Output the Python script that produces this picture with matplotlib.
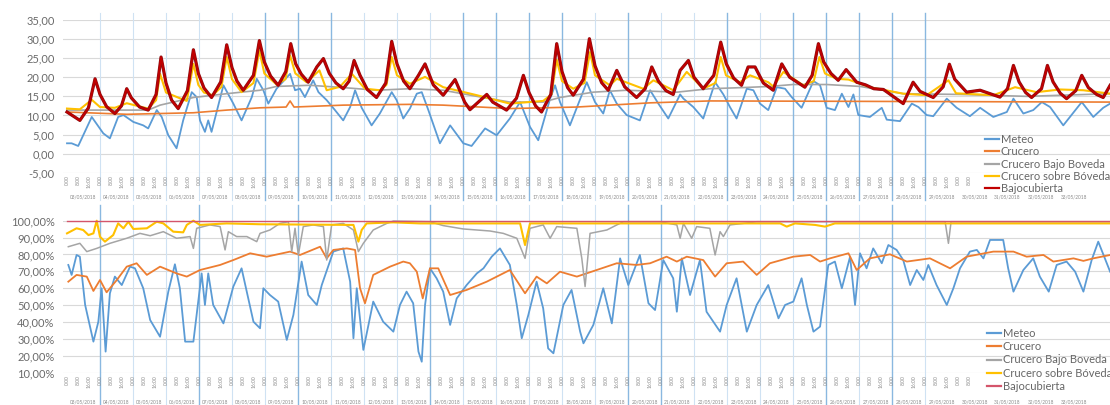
import matplotlib
matplotlib.use("Agg")
import matplotlib.pyplot as plt
import matplotlib.patheffects as pe
from matplotlib.transforms import blended_transform_factory

plt.rcParams['font.family'] = ['Lato', 'DejaVu Sans']

# ---------------- data (x in days from start of record) ----------------
series_names = ["Meteo", "Crucero", "Crucero Bajo Boveda", "Crucero sobre Bóveda", "Bajocubierta"]

# Temperature (°C) panel
temp_meteo_t = [0.00, 0.14, 0.34, 0.75, 1.10, 1.30, 1.55, 1.71, 2.01, 2.31, 2.46, 2.72, 2.87, 3.07, 3.32, 3.52, 3.78, 3.93,
                4.03, 4.18, 4.28, 4.38, 4.74, 5.04, 5.29, 5.60, 5.75, 5.95, 6.10, 6.35, 6.76, 6.91, 7.06, 7.21, 7.46, 7.62,
                7.87, 8.12, 8.37, 8.58, 8.73, 8.93, 9.23, 9.48, 9.84, 9.99, 10.19, 10.39, 10.60, 10.75, 10.95, 11.30, 11.61,
                12.01, 12.26, 12.67, 13.02, 13.42, 13.73, 14.03, 14.28, 14.64, 14.79, 14.94, 15.24, 15.75, 16.00, 16.25,
                16.45, 16.66, 16.96, 17.36, 17.67, 17.92, 18.22, 18.58, 18.68, 18.98, 19.28, 19.64, 19.89, 20.09, 20.29,
                20.60, 20.80, 21.00, 21.25, 21.51, 21.76, 21.96, 22.26, 22.62, 22.82, 23.02, 23.27, 23.48, 23.68, 23.83,
                23.98, 24.33, 24.69, 24.84, 25.24, 25.60, 25.80, 26.05, 26.25, 26.66, 26.96, 27.36, 27.67, 28.07, 28.48,
                28.68, 28.98, 29.28, 29.54, 29.79, 30.19, 30.75, 31.10, 31.40, 31.61]
temp_meteo_v = [2.7, 2.7, 2.0, 9.6, 5.3, 4.0, 9.6, 10.1, 8.3, 7.4, 6.6, 11.4, 9.6, 4.8, 1.4, 8.7, 16.1, 14.8,
                8.7, 5.7, 8.7, 5.7, 17.9, 13.1, 8.7, 14.8, 19.6, 16.6, 13.1, 17.0, 20.9, 16.6, 17.0, 14.8, 19.2, 16.1,
                14.0, 11.4, 8.7, 12.2, 16.6, 12.0, 7.4, 10.5, 16.1, 14.0, 9.2, 11.8, 15.7, 16.1, 11.4, 2.7, 7.4,
                2.7, 2.0, 6.6, 4.8, 9.2, 13.5, 7.0, 3.5, 14.4, 17.9, 13.5, 7.4, 18.7, 13.5, 10.5,
                16.6, 13.1, 10.1, 8.7, 16.6, 13.1, 9.2, 15.5, 14.4, 12.2, 9.2, 18.7, 15.5, 12.2, 9.2,
                17.0, 16.6, 13.1, 11.4, 17.4, 17.0, 14.8, 12.0, 19.0, 17.9, 12.0, 11.4, 15.7, 12.2, 15.5,
                10.1, 9.6, 12.0, 8.9, 8.5, 13.1, 12.2, 10.1, 9.8, 14.4, 12.0, 9.8, 12.0, 9.6, 10.9,
                14.4, 10.5, 11.4, 13.5, 12.2, 7.4, 13.5, 9.6, 12.0, 13.1]

temp_crucero_t = [0.00, 1.81, 3.83, 4.84, 5.85, 6.64, 6.76, 6.88, 8.37, 10.39, 11.40, 13.42, 15.45, 17.67, 19.48, 31.61]
temp_crucero_v = [10.9, 10.3, 10.7, 11.4, 12.0, 12.2, 13.8, 12.2, 12.7, 12.9, 12.7, 11.8, 12.2, 13.3, 13.8, 13.5]

temp_bajo_boveda_t = [0.00, 2.46, 2.82, 3.83, 4.84, 5.85, 6.35, 7.36, 8.37, 9.38, 10.39, 11.40, 12.42, 13.42, 14.43,
                      14.94, 15.95, 16.96, 18.48, 19.48, 20.49, 21.30, 22.00, 23.02, 24.03, 25.34, 27.06, 29.08, 31.61]
temp_bajo_boveda_v = [11.4, 11.4, 12.7, 14.7, 15.7, 16.6, 17.6, 17.9, 17.3, 16.6, 17.0, 16.6, 15.0, 13.5, 13.5,
                      14.7, 16.1, 16.6, 16.1, 17.0, 17.3, 17.6, 18.1, 18.1, 17.6, 15.7, 15.5, 15.0, 15.7]

temp_sobre_boveda_t = [0.00, 0.39, 0.75, 1.00, 1.45, 1.81, 2.46, 2.70, 2.82, 3.00, 3.42, 3.63, 3.83, 3.98, 4.15, 4.42,
                       4.68, 4.84, 5.00, 5.29, 5.65, 5.83, 5.98, 6.35, 6.62, 6.76, 6.92, 7.26, 7.65, 7.87, 8.27,
                       8.63, 9.03, 9.48, 9.68, 9.84, 10.00, 10.39, 10.85, 11.40, 12.42, 13.42, 14.43, 14.68, 14.84,
                       15.00, 15.34, 15.68, 15.85, 16.00, 16.45, 16.66, 17.46, 17.77, 18.37, 18.78, 19.28, 19.65,
                       19.81, 19.97, 20.39, 20.70, 21.25, 21.40, 21.71, 22.31, 22.63, 22.80, 22.97, 23.32, 23.68,
                       24.33, 25.34, 26.05, 26.71, 26.94, 28.07, 28.73, 29.38, 30.09, 30.80, 31.61]
temp_sobre_boveda_v = [11.8, 11.6, 14.1, 12.2, 12.0, 13.2, 11.8, 14.0, 20.9, 16.0, 14.5, 13.8, 23.5, 18.0, 16.0, 15.3,
                       17.5, 25.3, 19.5, 16.1, 18.5, 27.0, 21.0, 18.1, 19.5, 25.7, 21.0, 18.7, 21.8, 16.6, 17.5,
                       20.9, 17.0, 16.6, 18.0, 25.3, 20.5, 18.3, 20.1, 17.4, 15.3, 13.1, 13.8, 15.5, 24.6,
                       19.0, 17.0, 18.5, 26.6, 20.5, 17.9, 19.6, 17.0, 19.2, 16.6, 21.4, 17.0, 18.5,
                       25.3, 20.5, 18.7, 20.5, 18.7, 17.6, 21.4, 17.9, 19.0, 25.3, 21.0, 19.6, 19.4,
                       17.4, 15.7, 15.3, 19.2, 15.8, 15.3, 17.4, 16.1, 16.8, 16.6, 15.7]

temp_bajocubierta_t = [0.00, 0.39, 0.65, 0.85, 1.00, 1.20, 1.45, 1.65, 1.81, 1.95, 2.20, 2.46, 2.70, 2.85, 3.00, 3.17,
                       3.37, 3.65, 3.83, 3.98, 4.15, 4.38, 4.66, 4.84, 5.00, 5.15, 5.34, 5.65, 5.83, 5.98, 6.17,
                       6.40, 6.63, 6.78, 6.93, 7.10, 7.31, 7.57, 7.77, 7.95, 8.15, 8.37, 8.55, 8.70, 8.88, 9.10,
                       9.38, 9.66, 9.84, 10.00, 10.20, 10.39, 10.65, 10.85, 11.10, 11.40, 11.76, 11.93, 12.05,
                       12.21, 12.72, 12.90, 13.32, 13.62, 13.83, 14.00, 14.20, 14.38, 14.66, 14.84, 15.00, 15.17,
                       15.34, 15.65, 15.83, 16.00, 16.20, 16.40, 16.66, 16.90, 17.26, 17.52, 17.72, 17.92, 18.15,
                       18.37, 18.58, 18.83, 19.00, 19.28, 19.60, 19.81, 19.98, 20.20, 20.44, 20.64, 20.85, 21.10,
                       21.40, 21.66, 21.90, 22.36, 22.58, 22.77, 22.93, 23.15, 23.37, 23.61, 23.93, 24.20, 24.45,
                       24.74, 25.34, 25.64, 25.85, 26.25, 26.55, 26.74, 26.90, 27.26, 27.67, 28.27, 28.50, 28.68,
                       28.85, 29.05, 29.23, 29.53, 29.71, 29.88, 30.10, 30.29, 30.57, 30.75, 30.95, 31.20, 31.40,
                       31.61]
temp_bajocubierta_v = [10.9, 8.7, 12.0, 19.6, 15.5, 12.3, 10.5, 12.5, 17.0, 14.6, 12.2, 11.4, 15.5, 25.3, 18.5, 14.0,
                       11.8, 16.5, 27.2, 21.0, 17.2, 14.7, 18.8, 28.5, 22.5, 19.0, 16.6, 20.5, 29.6, 24.0, 20.3,
                       17.9, 21.5, 28.8, 23.5, 20.8, 18.7, 22.7, 24.9, 21.0, 18.5, 17.0, 19.0, 24.4, 20.5, 16.8,
                       14.7, 18.5, 29.4, 23.5, 19.0, 17.0, 20.5, 23.5, 18.0, 15.3, 19.4, 16.0, 13.5,
                       11.5, 15.5, 13.5, 11.4, 14.5, 20.5, 16.0, 12.5, 10.9, 15.5, 28.8, 21.5, 17.3,
                       15.3, 19.5, 30.1, 23.0, 18.6, 16.6, 21.8, 17.5, 14.7, 17.0, 22.7, 19.0, 16.5,
                       15.5, 21.8, 24.4, 20.0, 17.0, 20.5, 29.2, 23.5, 19.8, 17.9, 22.7, 22.7, 18.5,
                       16.6, 23.5, 20.0, 17.4, 20.5, 28.8, 24.0, 21.0, 19.2, 22.0, 18.7, 18.0, 17.0,
                       16.8, 13.1, 18.7, 16.3, 14.7, 17.5, 23.4, 19.5, 16.1, 16.6, 14.8, 17.0, 23.1,
                       18.8, 16.0, 14.7, 17.0, 23.1, 18.8, 15.8, 14.4, 16.5, 20.5, 17.3, 15.5, 14.7,
                       17.9]

# Relative humidity (%) panel
hr_meteo_t = [0.04, 0.14, 0.29, 0.39, 0.55, 0.80, 0.95, 1.05, 1.17, 1.30, 1.45, 1.66, 1.91, 2.06, 2.31, 2.52, 2.82,
              3.07, 3.27, 3.42, 3.58, 3.83, 4.08, 4.18, 4.28, 4.43, 4.74, 5.04, 5.29, 5.65, 5.85, 5.95, 6.15, 6.40,
              6.66, 6.86, 7.11, 7.31, 7.57, 7.72, 8.07, 8.37, 8.58, 8.68, 8.78, 8.98, 9.28, 9.58, 9.89, 10.09,
              10.29, 10.49, 10.65, 10.75, 10.85, 11.00, 11.20, 11.40, 11.61, 11.81, 12.11, 12.42, 12.62, 12.87,
              13.12, 13.42, 13.63, 13.78, 13.98, 14.23, 14.43, 14.58, 14.74, 15.04, 15.29, 15.55, 15.65, 15.95,
              16.25, 16.51, 16.76, 17.01, 17.36, 17.62, 17.82, 18.07, 18.37, 18.48, 18.63, 18.88, 19.18, 19.38,
              19.79, 19.99, 20.29, 20.60, 20.90, 21.25, 21.56, 21.76, 22.01, 22.26, 22.42, 22.62, 22.82, 23.07,
              23.27, 23.48, 23.73, 23.88, 24.03, 24.23, 24.43, 24.69, 24.89, 25.14, 25.34, 25.55, 25.75, 25.95,
              26.10, 26.35, 26.66, 26.86, 27.06, 27.36, 27.57, 27.77, 27.97, 28.37, 28.52, 28.68, 28.98, 29.28,
              29.48, 29.75, 29.99, 30.29, 30.55, 30.80, 31.05, 31.25, 31.45, 31.61]
hr_meteo_v = [73.8, 67.9, 79.7, 78.7, 50.1, 28.4, 40.2, 60.0, 22.5, 57.0, 66.9, 61.9, 72.8, 71.8, 60.0, 41.2, 31.3,
              58.0, 74.2, 60.0, 28.4, 28.4, 68.8, 50.1, 68.8, 50.1, 39.2, 61.0, 71.8, 40.2, 36.3, 60.0, 56.0, 52.1,
              29.4, 44.2, 75.8, 56.0, 50.1, 61.9, 81.7, 83.6, 63.9, 30.4, 60.0, 23.5, 52.1, 40.2, 34.3, 50.1,
              58.0, 51.1, 22.5, 16.5, 50.1, 71.8, 65.9, 58.0, 38.3, 54.0, 61.9, 68.8, 71.8, 78.7,
              83.6, 73.8, 50.1, 30.4, 44.2, 63.9, 48.1, 24.4, 21.5, 50.1, 59.0, 34.3, 27.4, 38.3,
              60.0, 39.2, 77.7, 61.9, 79.7, 51.1, 47.1, 76.7, 65.9, 46.1, 77.7, 56.0, 76.7, 46.1,
              34.3, 50.1, 65.9, 34.3, 50.1, 61.9, 42.2, 50.1, 52.1, 65.9, 50.1, 34.3, 37.3, 73.8,
              75.8, 60.0, 78.7, 50.1, 80.7, 71.8, 83.6, 74.8, 85.6, 82.7, 76.7, 61.9, 70.8, 64.9,
              73.8, 61.9, 50.1, 60.0, 71.8, 81.7, 82.7, 77.7, 88.6, 88.6, 71.8, 58.0, 70.8, 77.7,
              66.9, 58.0, 73.8, 75.8, 69.8, 58.0, 76.7, 87.6, 77.7, 69.8]

hr_crucero_t = [0.04, 0.29, 0.60, 0.80, 1.00, 1.20, 1.51, 1.81, 2.11, 2.42, 2.82, 3.32, 3.63, 4.03, 4.64, 5.04, 5.55,
                6.05, 6.76, 7.06, 7.67, 7.87, 8.07, 8.48, 8.73, 8.88, 9.03, 9.28, 9.79, 10.19, 10.39, 10.60, 10.78,
                11.00, 11.25, 11.61, 12.11, 12.72, 13.42, 13.88, 14.23, 14.54, 14.94, 15.45, 16.05, 16.66, 17.26,
                17.67, 18.17, 18.48, 18.78, 19.28, 19.64, 19.99, 20.49, 20.90, 21.30, 22.01, 22.52, 22.82, 23.12,
                23.68, 23.93, 24.33, 24.94, 25.45, 26.15, 26.76, 27.26, 28.07, 28.68, 29.08, 29.59, 29.89, 30.50,
                30.80, 31.10, 31.61]
hr_crucero_v = [63.9, 67.9, 66.9, 58.4, 64.9, 57.6, 64.9, 72.8, 74.8, 67.9, 72.8, 68.8, 66.9, 70.8, 73.8, 76.7, 80.7,
                78.7, 81.7, 79.7, 84.6, 77.7, 82.7, 83.6, 82.7, 60.0, 51.1, 67.9, 72.8, 75.8, 74.8, 69.8, 54.0,
                71.8, 71.8, 56.0, 59.0, 63.9, 70.8, 57.0, 66.9, 62.9, 69.8, 66.9, 70.8, 74.8, 73.8,
                74.8, 78.7, 75.8, 78.7, 76.7, 66.9, 74.8, 75.8, 67.9, 74.8, 78.7, 79.7, 75.8, 77.7,
                80.7, 70.8, 77.7, 80.1, 75.8, 77.7, 71.8, 78.7, 81.7, 81.7, 78.7, 79.7, 75.8, 77.7,
                76.2, 77.7, 79.7]

hr_bajo_boveda_t = [0.04, 0.39, 0.60, 0.90, 1.30, 1.81, 2.21, 2.52, 2.92, 3.32, 3.73, 3.83, 3.93, 4.33, 4.64, 4.79,
                    4.89, 5.14, 5.45, 5.75, 5.85, 6.15, 6.45, 6.71, 6.81, 6.91, 7.01, 7.16, 7.46, 7.77, 7.87, 8.02,
                    8.37, 8.68, 8.83, 8.98, 9.28, 9.69, 9.89, 11.00, 11.40, 12.01, 12.42, 12.82, 13.22, 13.63,
                    13.88, 14.03, 14.43, 14.64, 14.84, 15.45, 15.60, 15.70, 15.85, 16.36, 16.66, 16.86, 17.97,
                    18.48, 18.58, 18.68, 18.93, 19.08, 19.48, 19.64, 19.79, 19.89, 20.09, 20.49, 20.90, 26.61,
                    26.71, 26.79, 31.61]
hr_bajo_boveda_v = [84.6, 86.6, 81.7, 83.6, 86.6, 89.6, 92.5, 91.1, 93.5, 89.6, 90.6, 83.6, 95.5, 97.5, 96.5, 82.7,
                    93.5, 90.6, 90.6, 87.6, 92.5, 94.5, 98.4, 99.4, 81.7, 95.5, 79.7, 96.5, 97.5, 96.5, 76.7, 97.5,
                    98.4, 94.5, 81.7, 86.6, 94.5, 98.4, 99.8, 99.4, 97.1, 95.1, 94.5, 93.9, 92.5, 89.6,
                    77.7, 95.5, 97.5, 89.6, 96.5, 95.5, 77.7, 61.0, 92.5, 94.5, 97.5, 99.4, 99.4,
                    97.5, 89.6, 98.4, 89.6, 96.5, 95.5, 79.7, 93.5, 90.6, 97.5, 98.4, 99.4, 99.4,
                    86.6, 99.4, 99.4]

hr_sobre_boveda_t = [0.00, 0.29, 0.49, 0.65, 0.80, 0.90, 1.00, 1.15, 1.40, 1.55, 1.71, 1.86, 2.01, 2.42, 2.72, 2.92,
                     3.22, 3.52, 3.63, 3.83, 4.03, 4.84, 5.85, 8.68, 8.83, 8.93, 9.08, 9.89, 10.70, 13.73, 13.88,
                     14.03, 21.61, 21.81, 22.06, 22.67, 22.97, 23.27, 31.61]
hr_sobre_boveda_v = [92.5, 95.5, 94.5, 91.5, 92.5, 100.0, 90.5, 87.6, 91.5, 98.4, 95.5, 99.4, 95.1, 95.5, 99.4, 98.4,
                     93.5, 93.1, 97.5, 100.0, 97.5, 98.4, 97.9, 97.5, 87.6, 94.5, 98.4, 99.0, 98.4, 98.4, 85.6,
                     98.4, 98.4, 96.5, 98.4, 97.5, 96.5, 98.4, 98.4]

hr_bajocubierta_t = [0.00, 31.61]
hr_bajocubierta_v = [100.0, 100.0]

temp_ticks = [-5, 0, 5, 10, 15, 20, 25, 30, 35]
temp_ticklabels = ["-5,00", "0,00", "5,00", "10,00", "15,00", "20,00", "25,00", "30,00", "35,00"]
hr_ticks = [10, 20, 30, 40, 50, 60, 70, 80, 90, 100]
hr_ticklabels = ["10,00%", "20,00%", "30,00%", "40,00%", "50,00%", "60,00%", "70,00%", "80,00%", "90,00%", "100,00%"]
hour_labels = ["0:00", "8:00", "16:00"]
first_day = 3  # day of month of first date label

# ---------------- styling ----------------
colors = ["#5B9BD5", "#ED7D31", "#A5A5A5", "#FFC000", "#C00000"]
txt_col = "#6b6b6b"
W, H = 1110, 405
fig = plt.figure(figsize=(W / 100, H / 100), dpi=100)

x_left_px, x_right_px = 63, 1110
px_per_day, day0_px = 33.0, 67.0
xlim = ((x_left_px - day0_px) / px_per_day, (x_right_px - day0_px) / px_per_day)
legend_left_day = (980 - day0_px) / px_per_day   # tick labels hidden under the legends


def make_axes(top_px, bot_px):
    return fig.add_axes([x_left_px / W, 1 - bot_px / H, (x_right_px - x_left_px) / W, (bot_px - top_px) / H])


ax1 = make_axes(20.0, 172.7)
ax2 = make_axes(220.7, 372.7)

dark_top = {6, 7, 8, 12, 13, 14, 15, 17, 20, 22, 23, 24, 25, 26}
dark_bot = {1, 4, 7, 11, 17, 18, 23, 25}

for ax, ylim, ticks, tlabels, dark, (top_px, bot_px), vext in [
        (ax1, (-5, 35), temp_ticks, temp_ticklabels, dark_top, (20.0, 172.7), (13, 200)),
        (ax2, (10, 100), hr_ticks, hr_ticklabels, dark_bot, (220.7, 372.7), (205, 405))]:
    ax.set_xlim(*xlim)
    ax.set_ylim(*ylim)
    for s in ax.spines.values():
        s.set_visible(False)
    ax.set_yticks(ticks)
    ax.set_yticklabels(tlabels, fontsize=8, color=txt_col)
    ax.tick_params(axis='y', length=0, pad=6)
    for t in ticks:
        ax.axhline(t, color="#d9d9d9", lw=0.8, zorder=0)
    hpx = bot_px - top_px
    ymax = (bot_px - vext[0]) / hpx
    ymin = (bot_px - vext[1]) / hpx
    for d in range(1, 27):
        if d in dark:
            ax.axvline(d, ymin=ymin, ymax=ymax, color="#8ab8e0", lw=1.0, zorder=0.5, clip_on=False)
        else:
            ax.axvline(d, ymin=ymin, ymax=ymax, color="#cfe2f3", lw=0.8, zorder=0.5, clip_on=False)
    # x tick labels: 3 per day (those under the legend are hidden)
    xt = [k / 3 for k in range(0, 95) if k / 3 < legend_left_day]
    ax.set_xticks(xt)
    ax.set_xticklabels([hour_labels[k % 3] for k in range(len(xt))], rotation=90, fontsize=3.6, color="#8a8a8a")
    ax.tick_params(axis='x', length=0, pad=2)
    tr = blended_transform_factory(ax.transData, ax.transAxes)
    yd = -(vext[1] - 3 - bot_px) / hpx
    for d in range(0, 31):
        ax.text(d + 0.5, yd, f"{first_day + d:02d}/05/2018", transform=tr, fontsize=3.4, color="#8a8a8a",
                ha='center', va='center', clip_on=False)

temp_series = [(temp_meteo_t, temp_meteo_v), (temp_crucero_t, temp_crucero_v),
               (temp_bajo_boveda_t, temp_bajo_boveda_v), (temp_sobre_boveda_t, temp_sobre_boveda_v),
               (temp_bajocubierta_t, temp_bajocubierta_v)]
hr_series = [(hr_meteo_t, hr_meteo_v), (hr_crucero_t, hr_crucero_v),
             (hr_bajo_boveda_t, hr_bajo_boveda_v), (hr_sobre_boveda_t, hr_sobre_boveda_v),
             (hr_bajocubierta_t, hr_bajocubierta_v)]

lws_top = [1.3, 1.2, 1.2, 1.5, 1.4]
for i, ((t, v), name) in enumerate(zip(temp_series, series_names)):
    kw = {}
    if i == 4:
        kw['path_effects'] = [pe.Stroke(linewidth=2.3, foreground="#8b0f14"), pe.Normal()]
    ax1.plot(t, v, color=colors[i], lw=lws_top[i], label=name, zorder=2 + i, solid_joinstyle='round', **kw)

lws_bot = [1.3, 1.3, 1.1, 1.5, 1.0]
colors_bot = colors[:4] + ["#d4556b"]
for i, ((t, v), name) in enumerate(zip(hr_series, series_names)):
    ax2.plot(t, v, color=colors_bot[i], lw=lws_bot[i], label=name, zorder=2 + i, clip_on=False,
             solid_joinstyle='round')


def add_legend(ax, x_px, y_px, rowsp):
    h, l = ax.get_legend_handles_labels()
    leg = ax.legend(h, l, loc='upper left', bbox_to_anchor=(x_px / W, 1 - y_px / H),
                    bbox_transform=fig.transFigure, frameon=False, fontsize=8, handlelength=1.25,
                    handletextpad=0.15, labelspacing=rowsp, borderpad=0, borderaxespad=0)
    for t in leg.get_texts():
        t.set_color("#666666")
    for ln in leg.get_lines():
        ln.set_linewidth(1.6)
        ln.set_path_effects([])
    leg.set_zorder(20)
    return leg


add_legend(ax1, 985, 134, 0.12)
add_legend(ax2, 987, 328, 0.2)

fig.savefig("out.png", dpi=100)
